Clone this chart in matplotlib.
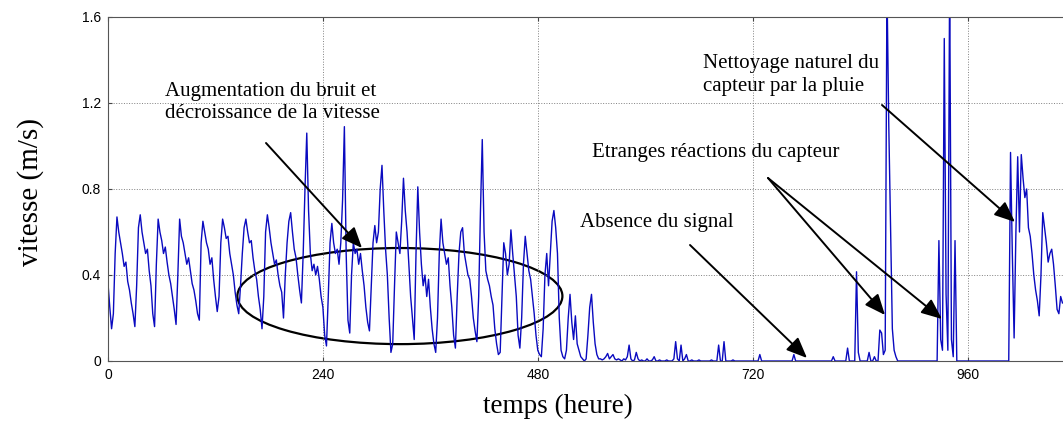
import numpy as np
import matplotlib.pyplot as plt
from matplotlib.patches import Ellipse

plt.rcParams['font.family'] = 'Liberation Serif'

# une mesure toutes les 2 heures
pas = 2

# 0 - 238 h : cycle journalier regulier
vit_a = [0.36, 0.25, 0.15, 0.22, 0.50, 0.67, 0.60, 0.55, 0.50, 0.44,
         0.46, 0.37, 0.33, 0.27, 0.22, 0.16, 0.35, 0.62, 0.68, 0.60,
         0.55, 0.50, 0.52, 0.42, 0.35, 0.22, 0.16, 0.45, 0.66, 0.60,
         0.56, 0.50, 0.53, 0.46, 0.40, 0.36, 0.30, 0.24, 0.17, 0.40,
         0.66, 0.58, 0.55, 0.50, 0.45, 0.48, 0.42, 0.36, 0.33, 0.28,
         0.22, 0.19, 0.55, 0.65, 0.60, 0.55, 0.52, 0.45, 0.48, 0.38,
         0.30, 0.23, 0.30, 0.55, 0.66, 0.62, 0.57, 0.58, 0.50, 0.45,
         0.40, 0.32, 0.26, 0.22, 0.35, 0.50, 0.62, 0.66, 0.60, 0.55,
         0.56, 0.48, 0.42, 0.38, 0.30, 0.24, 0.15, 0.30, 0.60, 0.68,
         0.62, 0.55, 0.50, 0.45, 0.47, 0.40, 0.35, 0.32, 0.20, 0.40,
         0.55, 0.65, 0.69, 0.60, 0.52, 0.48, 0.40, 0.33, 0.27, 0.50,
         0.80, 1.06, 0.70, 0.50, 0.42, 0.45, 0.40, 0.44, 0.38, 0.30]

# 240 - 548 h : bruit plus fort, vitesse qui baisse
vit_b = [0.25, 0.12, 0.07, 0.30, 0.55, 0.64, 0.55, 0.50, 0.52, 0.45,
         0.55, 0.75, 1.09, 0.50, 0.19, 0.13, 0.40, 0.55, 0.50, 0.52,
         0.45, 0.50, 0.42, 0.35, 0.25, 0.18, 0.14, 0.35, 0.55, 0.63,
         0.55, 0.60, 0.80, 0.91, 0.70, 0.52, 0.40, 0.20, 0.04, 0.08,
         0.35, 0.60, 0.55, 0.50, 0.65, 0.85, 0.70, 0.60, 0.45, 0.30,
         0.20, 0.10, 0.50, 0.81, 0.60, 0.45, 0.35, 0.40, 0.30, 0.38,
         0.25, 0.15, 0.08, 0.04, 0.20, 0.50, 0.66, 0.55, 0.50, 0.45,
         0.48, 0.35, 0.25, 0.12, 0.06, 0.30, 0.50, 0.60, 0.62, 0.50,
         0.45, 0.40, 0.38, 0.30, 0.20, 0.14, 0.09, 0.30, 0.70, 1.03,
         0.60, 0.42, 0.38, 0.35, 0.30, 0.26, 0.15, 0.08, 0.03, 0.04,
         0.30, 0.55, 0.50, 0.40, 0.45, 0.61, 0.50, 0.40, 0.30, 0.12,
         0.06, 0.20, 0.45, 0.58, 0.50, 0.42, 0.38, 0.30, 0.22, 0.12,
         0.05, 0.03, 0.02, 0.15, 0.40, 0.50, 0.35, 0.50, 0.65, 0.70,
         0.62, 0.50, 0.20, 0.05, 0.02, 0.01, 0.05, 0.20, 0.31, 0.18,
         0.10, 0.21, 0.08, 0.05, 0.02, 0.01, 0.00, 0.01, 0.12, 0.25,
         0.31, 0.18, 0.08, 0.03, 0.01]

# 550 - 858 h : absence du signal
vit_c = [0.01, 0.005, 0.01, 0.02, 0.035, 0.01, 0.02, 0.03, 0.01, 0.005,
         0.01, 0.005, 0.0, 0.01, 0.005, 0.02, 0.074, 0.01, 0.0, 0.005,
         0.04, 0.01, 0.0, 0.005, 0.0, 0.0, 0.01, 0.0, 0.0, 0.005,
         0.02, 0.0, 0.0, 0.005, 0.0, 0.0, 0.0, 0.005, 0.0, 0.0,
         0.0, 0.01, 0.09, 0.01, 0.0, 0.074, 0.0, 0.01, 0.03, 0.0,
         0.0, 0.005, 0.0, 0.0, 0.0, 0.005, 0.0, 0.0, 0.0, 0.0,
         0.0, 0.0, 0.005, 0.0, 0.0, 0.0, 0.074, 0.0, 0.0, 0.09,
         0.0, 0.0, 0.0, 0.0, 0.005, 0.0, 0.0, 0.0, 0.0, 0.0,
         0.0, 0.0, 0.0, 0.0, 0.0, 0.0, 0.0, 0.0, 0.0, 0.03,
         0.0, 0.0, 0.0, 0.0, 0.0, 0.0, 0.0, 0.0, 0.0, 0.0,
         0.0, 0.0, 0.0, 0.0, 0.0, 0.0, 0.0, 0.0, 0.03, 0.0,
         0.0, 0.0, 0.0, 0.0, 0.0, 0.0, 0.0, 0.0, 0.0, 0.0,
         0.0, 0.0, 0.0, 0.0, 0.0, 0.0, 0.0, 0.0, 0.0, 0.0,
         0.02, 0.0, 0.0, 0.0, 0.0, 0.0, 0.0, 0.0, 0.06, 0.0,
         0.0, 0.0, 0.0, 0.415, 0.04, 0.0, 0.0, 0.0, 0.0, 0.0,
         0.04, 0.0, 0.0, 0.02, 0.0]

# 860 - 1066 h : reactions du capteur, puis nettoyage par la pluie
vit_d = [0.0, 0.144, 0.13, 0.03, 0.05, 1.75, 1.10, 0.62, 0.15, 0.05,
         0.02, 0.0, 0.0, 0.0, 0.0, 0.0, 0.0, 0.0, 0.0, 0.0,
         0.0, 0.0, 0.0, 0.0, 0.0, 0.0, 0.0, 0.0, 0.0, 0.0,
         0.0, 0.0, 0.0, 0.0, 0.56, 0.10, 0.05, 1.50, 0.31, 0.05,
         1.80, 0.10, 0.02, 0.56, 0.0, 0.0, 0.0, 0.0, 0.0, 0.0,
         0.0, 0.0, 0.0, 0.0, 0.0, 0.0, 0.0, 0.0, 0.0, 0.0,
         0.0, 0.0, 0.0, 0.0, 0.0, 0.0, 0.0, 0.0, 0.0, 0.0,
         0.0, 0.0, 0.0, 0.0, 0.97, 0.50, 0.107, 0.60, 0.95, 0.60,
         0.96, 0.85, 0.76, 0.80, 0.62, 0.58, 0.50, 0.40, 0.33, 0.28,
         0.21, 0.40, 0.69, 0.62, 0.55, 0.46, 0.50, 0.52, 0.45, 0.35,
         0.24, 0.22, 0.30, 0.27]

debuts = [0, 240, 550, 860]
morceaux = [vit_a, vit_b, vit_c, vit_d]

x_ticks = [0, 240, 480, 720, 960]
y_ticks = [0, 0.4, 0.8, 1.2, 1.6]
y_labels = ['0', '0.4', '0.8', '1.2', '1.6']

temps = np.concatenate([d + pas * np.arange(len(v)) for d, v in zip(debuts, morceaux)])
vitesse = np.concatenate([np.array(v) for v in morceaux])

W, H = 1063, 428
fig = plt.figure(figsize=(W / 100, H / 100), dpi=100)
ax = fig.add_axes([108 / W, (H - 361) / H, 967 / W, 344 / H])

ax.plot(temps, vitesse, color='#0a0ac0', lw=1.0)
ax.set_xlim(0, 1080)
ax.set_ylim(0, 1.6)
ax.set_xticks(x_ticks)
ax.set_xticklabels([str(t) for t in x_ticks], family='Liberation Sans', fontsize=10)
ax.set_yticks(y_ticks)
ax.set_yticklabels(y_labels, family='Liberation Sans', fontsize=10)
ax.tick_params(direction='in', length=3, top=True, right=False, pad=5, color='#444444')
ax.grid(True, ls=':', color='#808080', lw=0.7)
for s in ax.spines.values():
    s.set_color('#555555')
    s.set_linewidth(0.8)
ax.spines['right'].set_visible(False)

# ellipse autour de la zone bruitee
ax.add_patch(Ellipse((326, 0.302), 363, 0.447, fill=False, color='k', lw=1.6))


def fx(px):
    return px / W


def fy(py):
    return 1 - py / H


fs = 15
fig.text(fx(165), fy(102.5), "Augmentation du bruit et\ndécroissance de la vitesse",
         fontsize=fs, va='center', ha='left', linespacing=1.25)
fig.text(fx(592), fy(152), "Etranges réactions du capteur", fontsize=fs, va='center')
fig.text(fx(580), fy(223), "Absence du signal", fontsize=fs, va='center')
fig.text(fx(703), fy(75), "Nettoyage naturel du\ncapteur par la pluie",
         fontsize=fs, va='center', ha='left', linespacing=1.3)

fleches = [((266, 143), (362, 248)),
           ((690, 245), (807, 358)),
           ((768, 178), (885, 315)),
           ((768, 178), (942, 319)),
           ((882, 105), (1015, 222))]
for (x0, y0), (x1, y1) in fleches:
    ax.annotate('', xy=(fx(x1), fy(y1)), xycoords='figure fraction',
                xytext=(fx(x0), fy(y0)), textcoords='figure fraction',
                arrowprops=dict(arrowstyle='-|>,head_length=0.9,head_width=0.38',
                                mutation_scale=14, color='k', lw=1.4,
                                shrinkA=0, shrinkB=0))

fig.text(fx(31), fy(192), "vitesse (m/s)", fontsize=21, rotation=90,
         va='center', ha='center')
fig.text(fx(558), fy(406), "temps (heure)", fontsize=19.5, va='center', ha='center')

fig.savefig('out.png', dpi=100)
